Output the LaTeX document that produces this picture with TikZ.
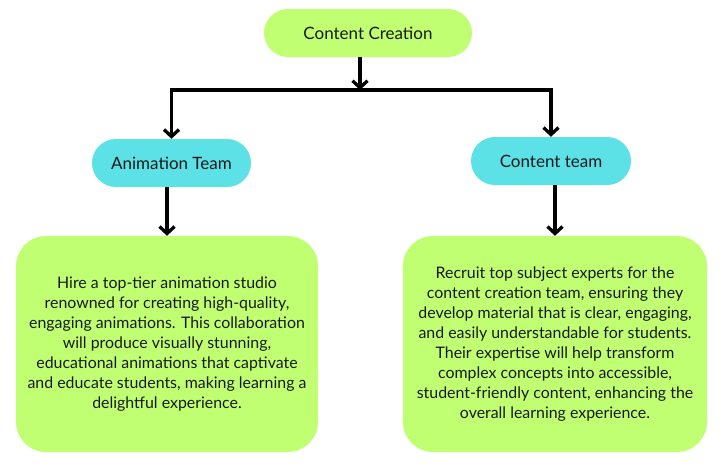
\documentclass[tikz,border=0pt]{standalone}
\usepackage{fontspec}
\setmainfont{Lato}
\usetikzlibrary{arrows.meta}
\definecolor{lime}{HTML}{C1FF72}
\definecolor{aqua}{HTML}{5CE1E6}
\begin{document}
\begin{tikzpicture}[x=1pt,y=-1pt,
  pill/.style={rounded corners=24pt, minimum height=48pt, inner sep=0pt,
    font=\fontsize{17}{20}\selectfont, text=black!90},
  card/.style={fill=lime, rounded corners=30pt, minimum height=216pt, inner sep=0pt,
    align=center, font=\fontsize{15.9}{20}\selectfont, text=black!90},
  conn/.style={line width=3.3pt, -{Straight Barb[length=7pt,width=15pt]}}
]
\useasboundingbox (0,0) rectangle (727,474);
\fill[white] (0,0) rectangle (727,474);

\node[pill, fill=lime, minimum width=208pt] (top) at (368,33) {Content Creation};
\node[pill, fill=aqua, minimum width=159pt] (anim) at (171.5,163) {Animation Team};
\node[pill, fill=aqua, minimum width=160pt] (cont) at (551,161) {Content team};

\node[card, minimum width=302pt] (lbox) at (167,344) {Hire a top-tier animation studio\\
renowned for creating high-quality,\\
engaging animations. This collaboration\\
will produce visually stunning,\\
educational animations that captivate\\
and educate students, making learning a\\
delightful experience.};

\node[card, minimum width=304pt] (rbox) at (555,344) {Recruit top subject experts for the\\
content creation team, ensuring they\\
develop material that is clear, engaging,\\
and easily understandable for students.\\
Their expertise will help transform\\
complex concepts into accessible,\\
student-friendly content, enhancing the\\
overall learning experience.};

\coordinate (j) at (360,90);
\draw[conn] (top.south -| j) -- (j);
\draw[conn] (j) -| (anim.north);
\draw[conn] (j) -| (cont.north);
\draw[conn] (anim.south -| lbox.north) -- (lbox.north);
\draw[conn] (cont.south -| rbox.north) -- (rbox.north);
\end{tikzpicture}
\end{document}
